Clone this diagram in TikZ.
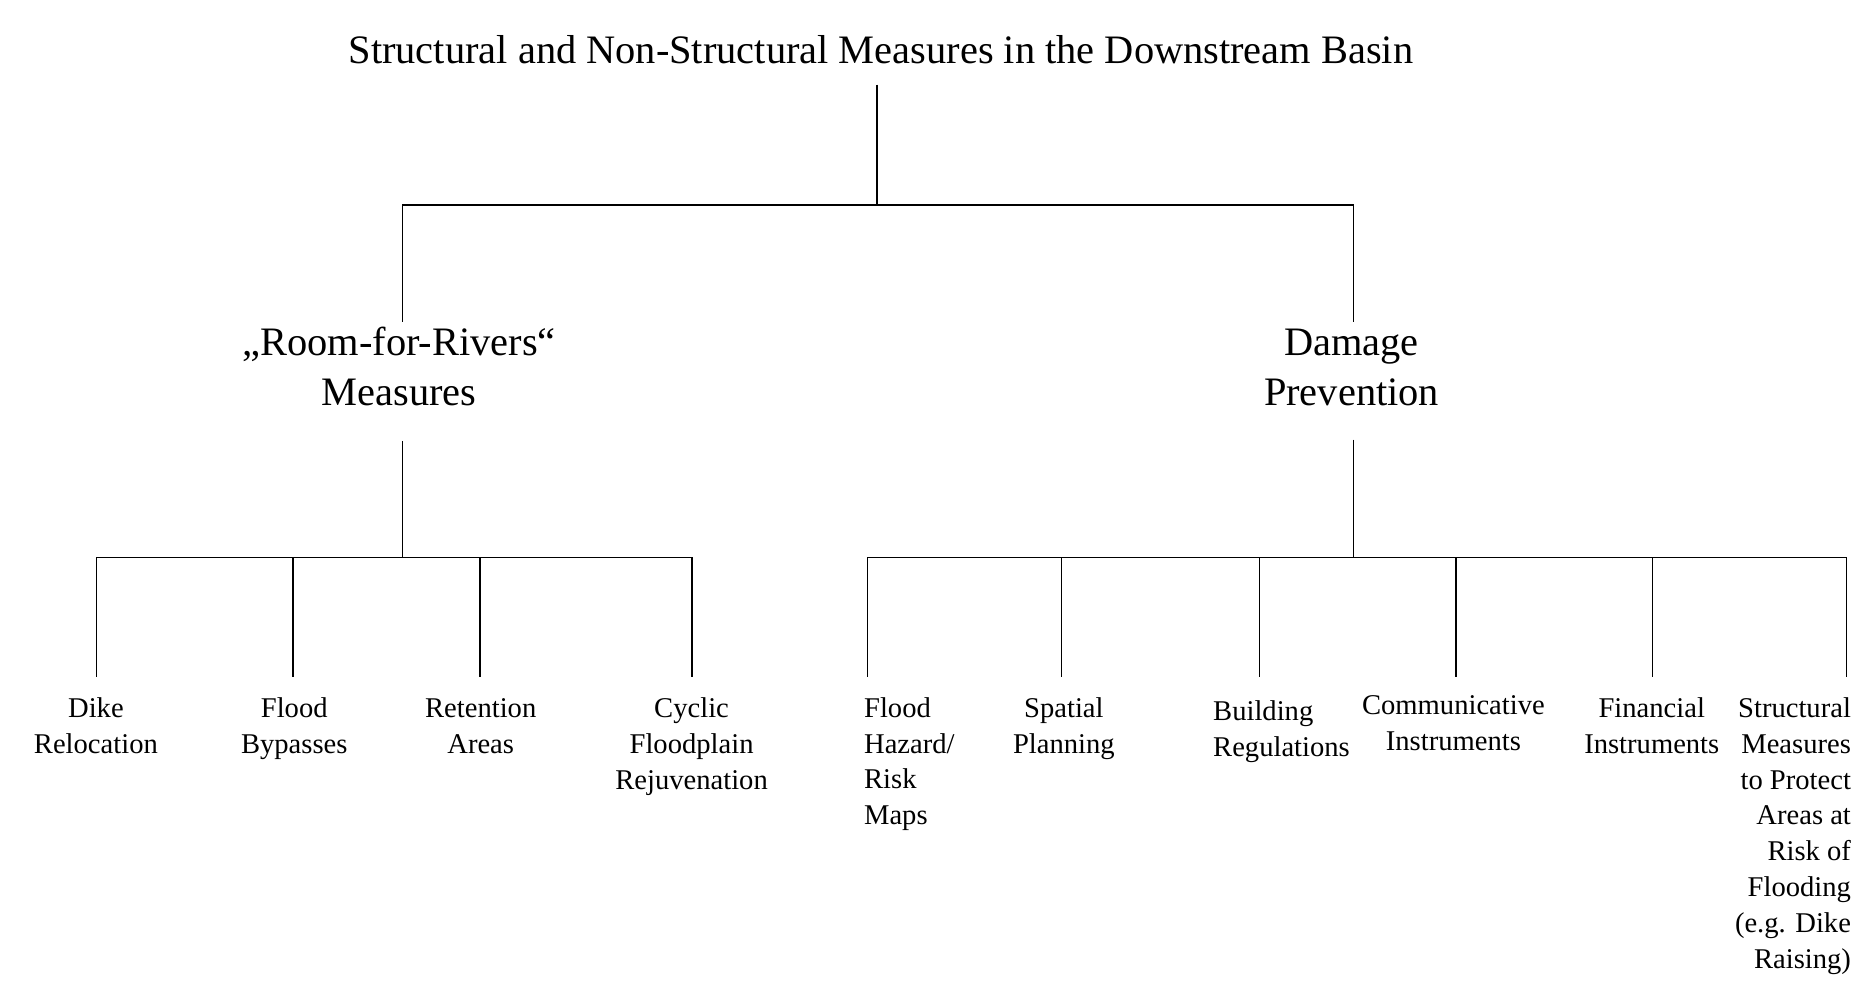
\documentclass[tikz,border=0pt]{standalone}
\usepackage{fontspec}
\setmainfont{Liberation Serif}
\begin{document}
\begin{tikzpicture}[x=0.5957pt, y=-0.5957pt,
  link/.style={line width=0.75pt, black},
  headline/.style={font=\fontsize{20.2}{25}\selectfont, inner sep=0pt, anchor=base},
  branch/.style={font=\fontsize{20.2}{25}\selectfont, align=center, inner sep=0pt, anchor=base},
  leaf/.style={font=\fontsize{14.3}{17.95}\selectfont, align=center, inner sep=0pt, anchor=base}]
\useasboundingbox[fill=white] (0,0) rectangle (1568,825);

% title and the two main branches (nodes placed by the baseline of their last line)
\node[headline] (root) at (739.5,53) {Structural and Non-Structural Measures in the Downstream Basin};
\node[branch] (rfr) at (335,340) {„Room-for-Rivers“\\Measures};
\node[branch] (dp) at (1134.5,340) {Damage\\Prevention};

% leaves of "Room-for-Rivers" measures
\node[leaf] (dike) at (80.5,632.1) {Dike\\Relocation};
\node[leaf] (bypass) at (247,632.1) {Flood\\Bypasses};
\node[leaf] (retention) at (403.5,632.1) {Retention\\Areas};
\node[leaf] (cyclic) at (580.5,662.3) {Cyclic\\Floodplain\\Rejuvenation};

% leaves of damage prevention
\node[leaf, align=left, anchor=base west] (maps) at (725,692.4) {Flood\\Hazard/\\Risk\\Maps};
\node[leaf] (spatial) at (893,632.1) {Spatial\\Planning};
\node[leaf, align=left, anchor=base west] (building) at (1018,634.6) {Building\\Regulations};
\node[leaf] (comm) at (1220,630.1) {Communicative\\Instruments};
\node[leaf] (fin) at (1386.5,632.1) {Financial\\Instruments};
\node[leaf, align=right, anchor=base east] (protect) at (1554,813) {Structural\\Measures\\to Protect\\Areas at\\Risk of\\Flooding\\(e.g. Dike\\Raising)};

% connector end points
\coordinate (rootlow) at (736,71);
\coordinate (rootbar) at (736,172);
\coordinate (rfrtop) at (338,270);
\coordinate (dptop) at (1136,270);
\coordinate (rfrlow) at (338,370);
\coordinate (rfrbar) at (338,468);
\coordinate (dplow) at (1136,369);
\coordinate (dpbar) at (1136,468);
\coordinate (diketop) at (81,568);
\coordinate (bypasstop) at (246,568);
\coordinate (retentiontop) at (403,568);
\coordinate (cyclictop) at (581,568);
\coordinate (mapstop) at (728,568);
\coordinate (spatialtop) at (891,568);
\coordinate (buildingtop) at (1057,568);
\coordinate (commtop) at (1222,568);
\coordinate (fintop) at (1387,568);
\coordinate (protecttop) at (1550,568);

% first level
\draw[link] (rootlow) -- (rootbar);
\draw[link] (rfrtop) |- (rootbar) -| (dptop);

% second level, left
\draw[link] (rfrlow) -- (rfrbar);
\draw[link] (diketop) |- (rfrbar) -| (cyclictop);
\draw[link] (bypasstop) |- (rfrbar);
\draw[link] (retentiontop) |- (rfrbar);

% second level, right
\draw[link] (dplow) -- (dpbar);
\draw[link] (mapstop) |- (dpbar) -| (protecttop);
\draw[link] (spatialtop) |- (dpbar);
\draw[link] (buildingtop) |- (dpbar);
\draw[link] (commtop) |- (dpbar);
\draw[link] (fintop) |- (dpbar);
\end{tikzpicture}
\end{document}
